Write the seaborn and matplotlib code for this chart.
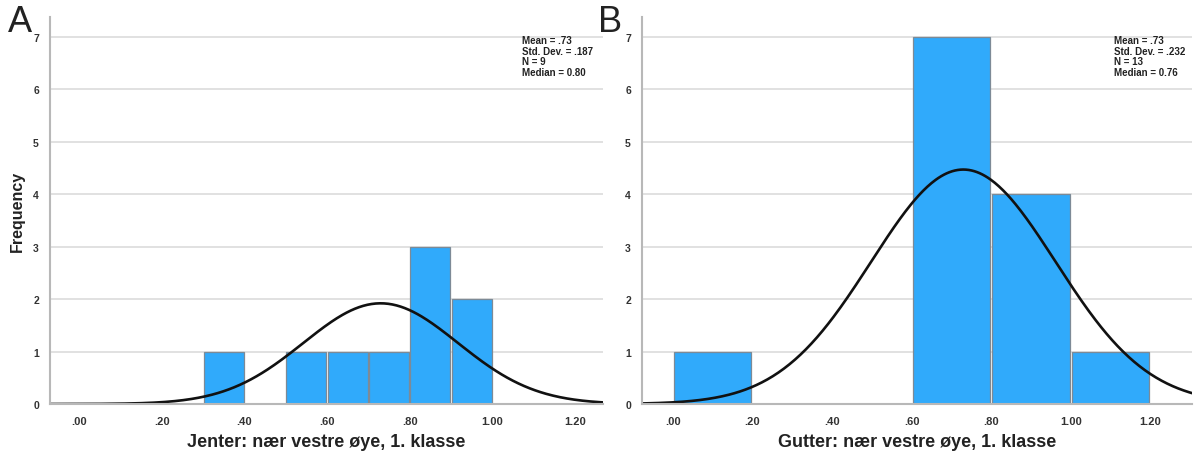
import numpy as np
import pandas as pd
import matplotlib
matplotlib.use("Agg")
import matplotlib.pyplot as plt
import seaborn as sns

sns.set_theme(style="white")
plt.rcParams['font.family'] = ['Liberation Sans', 'DejaVu Sans']

# Panel A data
a_edges = [0.3, 0.4, 0.5, 0.6, 0.7, 0.8, 0.9, 1.0]
a_counts = [1, 0, 1, 1, 1, 3, 2]
a_mean, a_sd, a_n, a_median = 0.73, 0.187, 9, 0.80
a_label = "Jenter: nær vestre øye, 1. klasse"
a_stats = ["Mean = .73", "Std. Dev. = .187", "N = 9", "Median = 0.80"]

# Panel B data
b_edges = [0.0, 0.2, 0.4, 0.6, 0.8, 1.0, 1.2]
b_counts = [1, 0, 0, 7, 4, 1]
b_mean, b_sd, b_n, b_median = 0.73, 0.232, 13, 0.76
b_label = "Gutter: nær vestre øye, 1. klasse"
b_stats = ["Mean = .73", "Std. Dev. = .232", "N = 13", "Median = 0.76"]

x_ticks = [0.0, 0.2, 0.4, 0.6, 0.8, 1.0, 1.2]
x_ticklabels = [".00", ".20", ".40", ".60", ".80", "1.00", "1.20"]
y_ticks = [0, 1, 2, 3, 4, 5, 6, 7]

BAR = "#30aafb"
EDGE = "#7d8a96"
GRID = "#dedede"
SPINE = "#b8b8b8"

fig = plt.figure(figsize=(12, 4.52), dpi=100)
axA = fig.add_axes([50/1200, 1-405/452, (603-50)/1200, (405-18)/452])
axB = fig.add_axes([642/1200, 1-405/452, (1192-642)/1200, (405-18)/452])

def panel(ax, edges, counts, mean, sd, n, stats, xlabel, xlim, stats_x, ylabel):
    e = np.array(edges)
    centers = (e[:-1] + e[1:]) / 2
    df = pd.DataFrame({"x": centers, "w": np.array(counts, dtype=float)})
    sns.histplot(data=df, x="x", weights="w", bins=list(edges), ax=ax,
                 color=BAR, edgecolor=EDGE, linewidth=0.9, alpha=1.0, shrink=0.97)
    bw = e[1] - e[0]
    xs = np.linspace(xlim[0], xlim[1], 400)
    ys = n * bw * np.exp(-0.5 * ((xs - mean) / sd) ** 2) / (sd * np.sqrt(2 * np.pi))
    sns.lineplot(x=xs, y=ys, ax=ax, color="#111111", linewidth=1.9)
    ax.set_xlim(*xlim)
    ax.set_ylim(0, 7.38)
    ax.set_yticks(y_ticks)
    ax.set_yticklabels([str(t) for t in y_ticks], fontsize=7.5, fontweight="bold", color="#333333")
    ax.set_xticks(x_ticks)
    ax.set_xticklabels(x_ticklabels, fontsize=8, fontweight="bold", color="#333333")
    ax.tick_params(axis="both", length=0, pad=9)
    ax.tick_params(axis="y", pad=8)
    ax.yaxis.grid(True, color=GRID, linewidth=1.3)
    ax.set_axisbelow(True)
    for s in ["top", "right"]:
        ax.spines[s].set_visible(False)
    for s in ["left", "bottom"]:
        ax.spines[s].set_color(SPINE)
        ax.spines[s].set_linewidth(1.5)
    ax.set_xlabel(xlabel, fontsize=13, fontweight="bold", color="#222222", labelpad=5)
    if ylabel:
        ax.set_ylabel("Frequency", fontsize=11.5, fontweight="bold", color="#222222", labelpad=6)
    else:
        ax.set_ylabel("")
    ax.text(stats_x, 0.953, "\n".join(stats), transform=ax.transAxes,
            fontsize=7, fontweight="bold", color="#222222", va="top", ha="left", linespacing=1.08)

panel(axA, a_edges, a_counts, a_mean, a_sd, a_n, a_stats, a_label, (-0.07, 1.268), (522-50)/553, True)
panel(axB, b_edges, b_counts, b_mean, b_sd, b_n, b_stats, b_label, (-0.078, 1.305), (1114-642)/550, False)

fig.text(8/1200, 1-40/452, "A", fontsize=26, color="#222222", va="bottom", ha="left")
fig.text(598/1200, 1-40/452, "B", fontsize=26, color="#222222", va="bottom", ha="left")

fig.savefig("out.png", dpi=100)
